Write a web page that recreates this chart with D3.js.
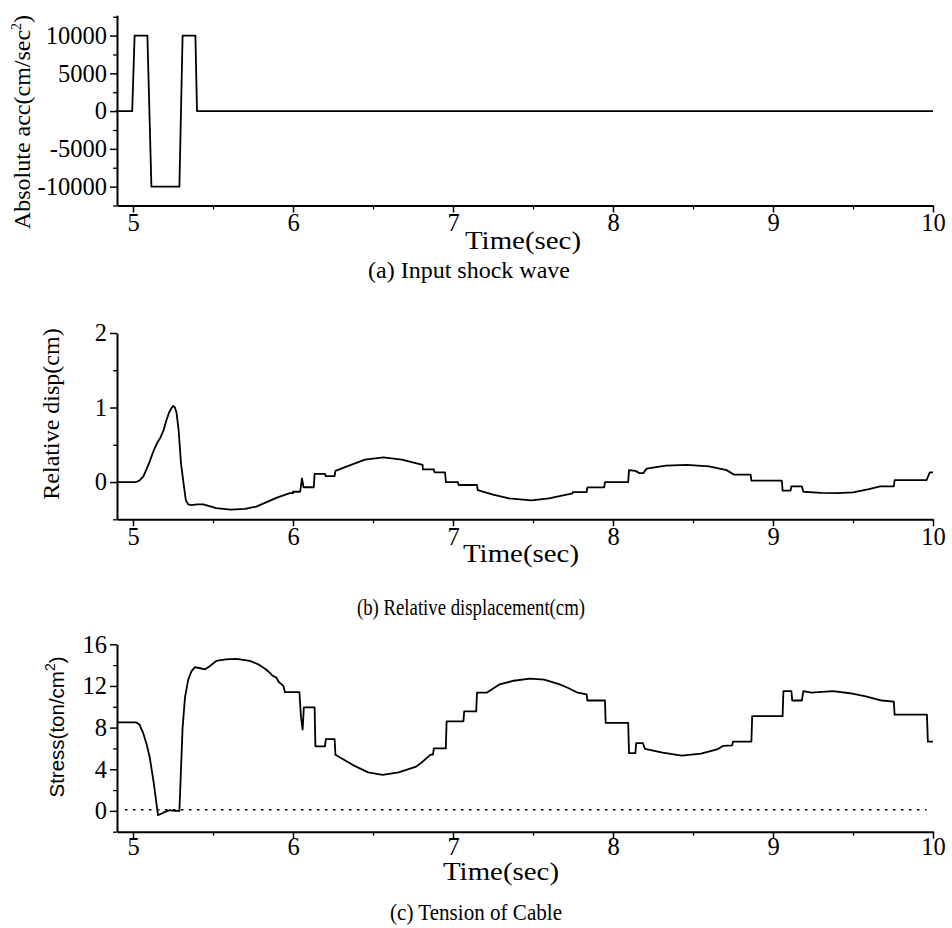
<!DOCTYPE html>
<html>
<head>
<meta charset="utf-8">
<script src="https://cdn.jsdelivr.net/npm/d3@7"></script>
<style>
  html, body { margin: 0; padding: 0; background: #fff; }
  svg { display: block; }
  svg text { font-family: "Liberation Serif", "Times New Roman", serif; fill: #000; }
</style>
</head>
<body>
<svg id="chart" width="952" height="928"></svg>
<script>
// ---------- DATA ----------
const timeTicks = [5, 6, 7, 8, 9, 10];
const timeMinorTicks = [5.5, 6.5, 7.5, 8.5, 9.5];

// (a) Input shock wave
const accTicks = [-10000, -5000, 0, 5000, 10000];
const accMinorTicks = [-12500, -7500, -2500, 2500, 7500, 12500];
const accTime  = [4.89, 4.995, 5.01, 5.09, 5.115, 5.29, 5.31, 5.39, 5.40, 10];
const accValue = [0, 0, 10000, 10000, -10000, -10000, 10000, 10000, 0, 0];

// (b) Relative displacement
const dispTicks = [0, 1, 2];
const dispMinorTicks = [-0.5, 0.5, 1.5];
const dispTime = [4.9, 5.02, 5.04, 5.065, 5.10, 5.127, 5.15, 5.17, 5.19, 5.21, 5.225, 5.24, 5.25, 5.262, 5.272, 5.285, 5.30, 5.315, 5.33, 5.345, 5.367, 5.40, 5.44, 5.52, 5.61, 5.70, 5.77, 5.90, 5.98, 6.0, 6.0, 6.045, 6.056, 6.066, 6.13, 6.135, 6.20, 6.205, 6.26, 6.265, 6.35, 6.45, 6.565, 6.68, 6.81, 6.812, 6.88, 6.885, 6.95, 6.956, 7.03, 7.035, 7.15, 7.155, 7.25, 7.35, 7.49, 7.60, 7.71, 7.745, 7.75, 7.835, 7.84, 7.945, 7.95, 8.095, 8.10, 8.14, 8.165, 8.19, 8.21, 8.33, 8.46, 8.60, 8.71, 8.755, 8.76, 8.86, 8.865, 9.055, 9.06, 9.11, 9.115, 9.18, 9.19, 9.30, 9.40, 9.50, 9.60, 9.67, 9.755, 9.76, 9.96, 9.98, 10];
const dispValue = [0, 0, 0.02, 0.075, 0.25, 0.41, 0.52, 0.59, 0.69, 0.835, 0.93, 0.99, 1.02, 1.0, 0.93, 0.7, 0.25, 0.0, -0.24, -0.30, -0.31, -0.30, -0.30, -0.35, -0.37, -0.36, -0.33, -0.21, -0.15, -0.15, -0.13, -0.13, 0.05, -0.07, -0.07, 0.11, 0.11, 0.08, 0.08, 0.15, 0.22, 0.30, 0.33, 0.30, 0.23, 0.17, 0.17, 0.13, 0.13, 0.0, 0.0, -0.04, -0.04, -0.11, -0.17, -0.22, -0.245, -0.22, -0.17, -0.155, -0.134, -0.134, -0.072, -0.072, 0.0, 0.0, 0.16, 0.15, 0.12, 0.12, 0.18, 0.22, 0.23, 0.21, 0.16, 0.10, 0.10, 0.10, 0.02, 0.02, -0.115, -0.115, -0.057, -0.057, -0.13, -0.145, -0.15, -0.14, -0.094, -0.057, -0.057, 0.027, 0.027, 0.13, 0.13];

// (c) Tension of cable
const stressTicks = [0, 4, 8, 12, 16];
const stressMinorTicks = [-2, 2, 6, 10, 14];
const stressTime = [4.9, 5.02, 5.04, 5.063, 5.085, 5.104, 5.13, 5.156, 5.18, 5.20, 5.23, 5.26, 5.29, 5.30, 5.31, 5.325, 5.345, 5.365, 5.386, 5.42, 5.45, 5.48, 5.52, 5.58, 5.646, 5.73, 5.78, 5.83, 5.86, 5.87, 5.896, 5.91, 5.94, 5.95, 6.04, 6.05, 6.06, 6.068, 6.135, 6.14, 6.20, 6.205, 6.26, 6.265, 6.375, 6.47, 6.56, 6.66, 6.77, 6.80, 6.83, 6.86, 6.875, 6.88, 6.955, 6.96, 7.065, 7.07, 7.145, 7.15, 7.21, 7.29, 7.38, 7.48, 7.57, 7.667, 7.72, 7.78, 7.835, 7.84, 7.95, 7.954, 8.095, 8.10, 8.14, 8.145, 8.187, 8.20, 8.31, 8.43, 8.55, 8.65, 8.69, 8.745, 8.75, 8.865, 8.87, 9.06, 9.065, 9.115, 9.12, 9.18, 9.19, 9.24, 9.375, 9.48, 9.58, 9.68, 9.755, 9.76, 9.962, 9.968, 10];
const stressValue = [8.5, 8.5, 8.3, 7.5, 6.4, 5.2, 2.65, -0.4, -0.25, -0.1, 0.07, 0, 0, 4.0, 8.0, 10.9, 12.6, 13.4, 13.8, 13.7, 13.6, 13.9, 14.4, 14.55, 14.6, 14.4, 14.1, 13.6, 13.2, 13.0, 12.8, 12.4, 12.0, 11.4, 11.4, 9.0, 7.8, 9.95, 9.95, 6.2, 6.2, 6.9, 6.9, 5.4, 4.4, 3.7, 3.45, 3.7, 4.25, 4.6, 5.0, 5.4, 5.4, 6.0, 6.0, 8.6, 8.6, 9.55, 9.55, 11.35, 11.35, 12.15, 12.5, 12.7, 12.6, 12.15, 11.8, 11.35, 11.2, 10.6, 10.6, 8.45, 8.45, 5.55, 5.55, 6.5, 6.5, 5.95, 5.6, 5.3, 5.5, 5.9, 6.25, 6.3, 6.65, 6.65, 9.1, 9.1, 11.5, 11.5, 10.6, 10.6, 11.5, 11.35, 11.5, 11.3, 11.0, 10.6, 10.5, 9.25, 9.25, 6.65, 6.65];

// ---------- DRAW ----------
const SERIF = '"Liberation Serif", "Times New Roman", Times, serif';
const SANS = '"Liberation Sans", Arial, Helvetica, sans-serif';
const svg = d3.select("#chart");
const x = d3.scaleLinear().domain([4.9, 10]).range([117, 933]);

const panels = [
  { t: accTime, v: accValue, dom: [-12500, 12700], rng: [205.5, 15.2], ticks: accTicks, minor: accMinorTicks,
    xTitleX: 523, xTitleY: 249, xTitleW: 116, capX: 469, capY: 278, capW: 202, caption: "(a) Input shock wave",
    yTitle: ["Absolute acc(cm/sec", "2", ")"], yTitleX: 30, yTitleY: 122, yFont: SERIF, yFS: 24, pad: 1 },
  { t: dispTime, v: dispValue, dom: [-0.5, 2], rng: [519.3, 333], ticks: dispTicks, minor: dispMinorTicks,
    xTitleX: 521, xTitleY: 562, xTitleW: 116, capX: 471, capY: 615, capW: 228, caption: "(b) Relative displacement(cm)",
    yTitle: ["Relative disp(cm)"], yTitleX: 59, yTitleY: 414, yFont: SERIF, yFS: 24, pad: 1 },
  { t: stressTime, v: stressValue, dom: [-2, 16], rng: [831.7, 644.3], ticks: stressTicks, minor: stressMinorTicks,
    xTitleX: 501, xTitleY: 880, xTitleW: 116, capX: 476, capY: 920, capW: 172, caption: "(c) Tension of Cable",
    yTitle: ["Stress(ton/cm", "2", ")"], yTitleX: 64, yTitleY: 727, yFont: SANS, yFS: 20.5, dotted: 0.1, pad: -1 }
];

panels.forEach(p => {
  const y = d3.scaleLinear().domain(p.dom).range(p.rng);
  const g = svg.append("g");
  const x0 = x.range()[0], y0 = p.rng[0];

  // minor ticks
  g.append("g").attr("transform", `translate(0,${y0})`)
    .call(d3.axisBottom(x).tickValues(timeMinorTicks).tickSize(4).tickFormat(""))
    .call(s => s.select(".domain").remove())
    .selectAll("line").attr("stroke-width", 1.3);
  g.append("g").attr("transform", `translate(${x0},0)`)
    .call(d3.axisLeft(y).tickValues(p.minor).tickSize(4).tickFormat(""))
    .call(s => s.select(".domain").remove())
    .selectAll("line").attr("stroke-width", 1.3);

  // major axes
  const xa = g.append("g").attr("transform", `translate(0,${y0})`)
    .call(d3.axisBottom(x).tickValues(timeTicks).tickSize(7).tickSizeOuter(0).tickPadding(p.pad).tickFormat(d3.format("d")));
  const ya = g.append("g").attr("transform", `translate(${x0},0)`)
    .call(d3.axisLeft(y).tickValues(p.ticks).tickSize(7).tickSizeOuter(0).tickPadding(3).tickFormat(d3.format("d")));
  [xa, ya].forEach(a => {
    a.attr("font-family", SERIF).attr("font-size", 24.5);
    a.selectAll("text").style("font-family", SERIF).style("font-size", "24.5px");
    a.select(".domain").attr("stroke-width", 2);
    a.selectAll("line").attr("stroke-width", 1.5);
  });
  // plain hyphen-minus as in the original
  ya.selectAll("text").text(d => String(d));

  // dotted zero line
  if (p.dotted !== undefined) {
    g.append("line")
      .attr("x1", x(4.95)).attr("x2", x(9.96))
      .attr("y1", y(p.dotted)).attr("y2", y(p.dotted))
      .attr("stroke", "#000").attr("stroke-width", 1.5)
      .attr("stroke-dasharray", "2.5,5.5");
  }

  // data line
  const pts = p.t.map((t, i) => [t, p.v[i]]);
  g.append("path").datum(pts)
    .attr("fill", "none").attr("stroke", "#000").attr("stroke-width", 1.8)
    .attr("stroke-linejoin", "round")
    .attr("d", d3.line().x(d => x(d[0])).y(d => y(d[1])));

  // x title
  g.append("text").attr("x", p.xTitleX).attr("y", p.xTitleY)
    .attr("text-anchor", "middle").style("font-family", SERIF).style("font-size", "25px")
    .attr("textLength", p.xTitleW).attr("lengthAdjust", "spacingAndGlyphs")
    .text("Time(sec)");

  // caption
  g.append("text").attr("x", p.capX).attr("y", p.capY)
    .attr("text-anchor", "middle").style("font-family", SERIF).style("font-size", "24px")
    .attr("textLength", p.capW).attr("lengthAdjust", "spacingAndGlyphs")
    .text(p.caption);

  // y title
  const yt = g.append("text")
    .attr("transform", `translate(${p.yTitleX},${p.yTitleY}) rotate(-90)`)
    .attr("text-anchor", "middle")
    .style("font-family", p.yFont)
    .style("font-size", p.yFS + "px");
  yt.append("tspan").text(p.yTitle[0]);
  if (p.yTitle.length > 1) {
    yt.append("tspan").attr("dy", -9).style("font-size", "14px").text(p.yTitle[1]);
    yt.append("tspan").attr("dy", 9).text(p.yTitle[2]);
  }
});
</script>
</body>
</html>
